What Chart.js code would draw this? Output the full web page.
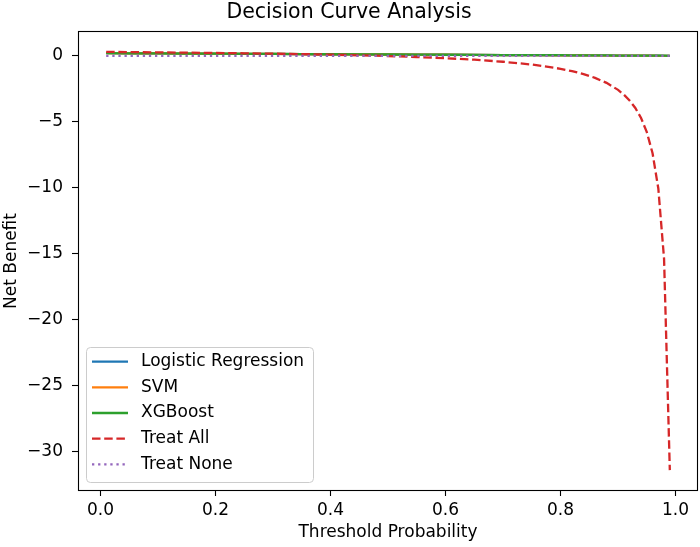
<!DOCTYPE html>
<html>
<head>
    <title>Decision Curve Analysis</title>
    <script src="https://cdn.jsdelivr.net/npm/chart.js"></script>
    <style>
        body {
            margin: 0;
            background-color: #ffffff;
        }
        #chart {
            display: block;
        }
    </style>
</head>
<body>
    <canvas id="chart" width="700" height="547"></canvas>

    <script>
        // threshold probabilities shared by every curve
        const thresholds = [0.01, 0.05, 0.10, 0.15, 0.20, 0.25, 0.30, 0.35, 0.40, 0.45,
                            0.50, 0.55, 0.60, 0.65, 0.70, 0.75, 0.80, 0.82, 0.84, 0.86,
                            0.88, 0.90, 0.91, 0.92, 0.93, 0.94, 0.95, 0.96, 0.97, 0.98, 0.99];

        const logisticNB = [0.20, 0.19, 0.18, 0.17, 0.16, 0.15, 0.14, 0.13, 0.12, 0.11,
                            0.10, 0.09, 0.08, 0.07, 0.06, 0.05, 0.04, 0.04, 0.03, 0.03,
                            0.03, 0.02, 0.02, 0.02, 0.02, 0.01, 0.01, 0.01, 0.01, 0.00, 0.00];
        const svmNB      = [0.20, 0.19, 0.18, 0.17, 0.16, 0.15, 0.14, 0.13, 0.12, 0.11,
                            0.10, 0.09, 0.08, 0.07, 0.06, 0.05, 0.04, 0.04, 0.03, 0.03,
                            0.02, 0.02, 0.02, 0.02, 0.01, 0.01, 0.01, 0.01, 0.00, 0.00, 0.00];
        const xgboostNB  = [0.20, 0.19, 0.18, 0.17, 0.16, 0.15, 0.14, 0.13, 0.12, 0.11,
                            0.10, 0.09, 0.08, 0.07, 0.06, 0.05, 0.05, 0.04, 0.04, 0.03,
                            0.03, 0.02, 0.02, 0.02, 0.02, 0.02, 0.01, 0.01, 0.01, 0.01, 0.00];
        const treatAllNB = [0.30, 0.28, 0.26, 0.24, 0.22, 0.19, 0.16, 0.13, 0.09, 0.04,
                            -0.02, -0.09, -0.18, -0.29, -0.45, -0.66, -0.98, -1.16, -1.38, -1.67,
                            -2.05, -2.58, -2.94, -3.38, -3.95, -4.71, -5.78, -7.38, -10.05, -15.38, -31.38];
        const treatNoneNB = [0, 0, 0, 0, 0, 0, 0, 0, 0, 0,
                             0, 0, 0, 0, 0, 0, 0, 0, 0, 0,
                             0, 0, 0, 0, 0, 0, 0, 0, 0, 0, 0];

        const xTicks = [0.0, 0.2, 0.4, 0.6, 0.8, 1.0];
        const yTicks = [-30, -25, -20, -15, -10, -5, 0];

        const FONT = "'DejaVu Sans', sans-serif";
        const LW = 2.3;

        function points(ys) {
            return thresholds.map((t, i) => ({ x: t, y: ys[i] }));
        }

        const series = [
            { label: 'Logistic Regression', data: logisticNB,  color: '#1f77b4', dash: [] },
            { label: 'SVM',                 data: svmNB,       color: '#ff7f0e', dash: [] },
            { label: 'XGBoost',             data: xgboostNB,   color: '#2ca02c', dash: [] },
            { label: 'Treat All',           data: treatAllNB,  color: '#d62728', dash: [8.5, 3.7] },
            { label: 'Treat None',          data: treatNoneNB, color: '#9467bd', dash: [2.3, 3.8] }
        ];

        // frame round the plot area, like a matplotlib axes box
        const framePlugin = {
            id: 'frame',
            afterDatasetsDraw(chart) {
                const { ctx, chartArea: a } = chart;
                ctx.save();
                ctx.strokeStyle = '#000';
                ctx.lineWidth = 1.1;
                ctx.strokeRect(Math.round(a.left) + 0.5, Math.round(a.top) + 0.5,
                               Math.round(a.right - a.left) - 1, Math.round(a.bottom - a.top) - 1);
                ctx.restore();
            }
        };

        // legend box drawn inside the lower left corner
        const legendPlugin = {
            id: 'insideLegend',
            afterDraw(chart) {
                const ctx = chart.ctx;
                const bx = 86, by = 347, bw = 227, bh = 135, r = 4;
                ctx.save();
                ctx.beginPath();
                ctx.roundRect(bx + 0.5, by + 0.5, bw, bh, r);
                ctx.fillStyle = 'rgba(255,255,255,0.8)';
                ctx.fill();
                ctx.strokeStyle = '#cccccc';
                ctx.lineWidth = 1;
                ctx.stroke();

                ctx.font = '17px ' + FONT;
                ctx.textBaseline = 'middle';
                ctx.textAlign = 'left';
                series.forEach((s, i) => {
                    const y = 361.7 + i * 25.65;
                    ctx.beginPath();
                    ctx.setLineDash(s.dash);
                    ctx.strokeStyle = s.color;
                    ctx.lineWidth = LW;
                    ctx.moveTo(92, y);
                    ctx.lineTo(128, y);
                    ctx.stroke();
                    ctx.setLineDash([]);
                    ctx.fillStyle = '#000';
                    ctx.fillText(s.label, 141, y);
                });
                ctx.restore();
            }
        };

        Chart.defaults.color = '#000';
        Chart.defaults.font.family = FONT;

        const ctx = document.getElementById('chart').getContext('2d');
        new Chart(ctx, {
            type: 'line',
            data: {
                datasets: series.map((s, i) => ({
                    label: s.label,
                    data: points(s.data),
                    borderColor: s.color,
                    backgroundColor: s.color,
                    borderWidth: LW,
                    borderDash: s.dash,
                    borderCapStyle: 'butt',
                    pointRadius: 0,
                    tension: 0,
                    fill: false,
                    order: series.length - i
                }))
            },
            options: {
                responsive: false,
                animation: false,
                devicePixelRatio: 1,
                layout: { padding: { left: 0, right: 2, top: 0, bottom: 0 } },
                plugins: {
                    legend: { display: false },
                    tooltip: { enabled: false },
                    title: {
                        display: true,
                        text: 'Decision Curve Analysis',
                        color: '#000',
                        font: { size: 20.5, weight: 'normal', family: FONT },
                        padding: { top: 0.2, bottom: 6.2 }
                    }
                },
                scales: {
                    x: {
                        type: 'linear',
                        min: -0.039,
                        max: 1.039,
                        afterBuildTicks: s => { s.ticks = xTicks.map(v => ({ value: v })); },
                        afterFit: s => { s.height = 56; },
                        ticks: {
                            font: { size: 17 },
                            padding: 4.5,
                            maxRotation: 0,
                            callback: v => v.toFixed(1)
                        },
                        grid: { drawOnChartArea: false, drawTicks: true, tickLength: 5, color: '#000', tickWidth: 1.1 },
                        border: { display: false },
                        title: {
                            display: true,
                            text: 'Threshold Probability',
                            font: { size: 17 },
                            padding: { top: 0, bottom: 3.8 }
                        }
                    },
                    y: {
                        type: 'linear',
                        min: -32.96,
                        max: 1.88,
                        afterBuildTicks: s => { s.ticks = yTicks.map(v => ({ value: v })); },
                        afterFit: s => { s.width = 78; },
                        ticks: {
                            font: { size: 17 },
                            padding: 9,
                            callback: v => (v < 0 ? '\u2212' + Math.abs(v) : String(v))
                        },
                        grid: { drawOnChartArea: false, drawTicks: true, tickLength: 6, color: '#000', tickWidth: 1.1 },
                        border: { display: false },
                        title: {
                            display: true,
                            text: 'Net Benefit',
                            font: { size: 17 },
                            padding: { top: 1.8, bottom: 0 }
                        }
                    }
                }
            },
            plugins: [framePlugin, legendPlugin]
        });
    </script>
</body>
</html>
